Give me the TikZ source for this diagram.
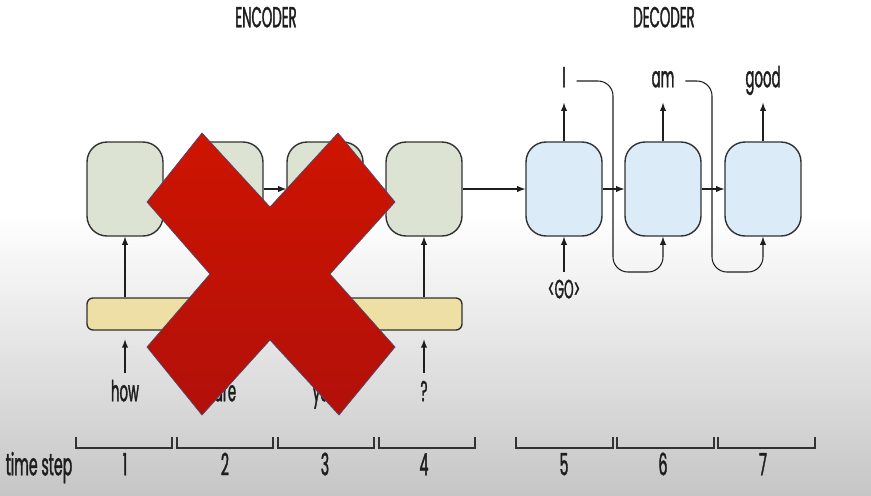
\documentclass[tikz,border=0pt]{standalone}
\usepackage{fontspec}
\setmainfont[FakeStretch=0.46, FakeBold=1.2]{Poppins}
\usetikzlibrary{arrows,positioning}

\definecolor{encfill}{RGB}{221,227,211}
\definecolor{decfill}{RGB}{219,235,247}
\definecolor{barfill}{RGB}{238,224,165}
\definecolor{edge}{RGB}{50,50,50}
\definecolor{ink}{RGB}{30,30,30}
\definecolor{crossred}{RGB}{206,20,0}
\definecolor{crossdark}{RGB}{178,16,10}
\definecolor{crossedge}{RGB}{80,70,110}

\tikzset{
  cell/.style={rectangle, rounded corners=0.4cm, draw=edge, line width=0.8pt,
    minimum width=1.52cm, minimum height=1.88cm},
  enccell/.style={cell, fill=encfill},
  deccell/.style={cell, fill=decfill},
  word/.style={text=ink, font=\fontsize{16.5}{18}\selectfont, inner sep=1pt,
    text height=1.6ex, text depth=0.3ex},
  big/.style={word, font=\fontsize{17.5}{20}\selectfont},
  link/.style={->, >=latex, line width=0.6pt, draw=ink},
  bracket/.style={line width=0.9pt, draw=edge},
}

\begin{document}
\begin{tikzpicture}[x=0.02cm, y=-0.02cm]
% background
\fill[white] (0,0) rectangle (871,495);
\shade[top color=white, bottom color={rgb,255:red,198;green,198;blue,198}] (0,215) rectangle (871,495);

% titles
\node[word] (enctitle) at (266,21) {ENCODER};
\node[word] (dectitle) at (664,21) {DECODER};

% encoder
\node[enccell] (e1) at (125,189) {};
\node[enccell] (e2) at (225,189) {};
\node[enccell] (e3) at (325,189) {};
\node[enccell] (e4) at (424,189) {};
\node[rectangle, rounded corners=0.12cm, draw=edge, line width=0.8pt, fill=barfill,
  minimum width=7.5cm, minimum height=0.64cm] (embed) at (274.5,314) {};

\node[word] (w1) at (125,395) {how};
\node[word] (w2) at (225,395) {are};
\node[word] (w3) at (325,395) {you};
\node[word] (w4) at (424,395) {?};

\draw[link] (e1) -- (e2);
\draw[link] (e2) -- (e3);
\draw[link] (e3) -- (e4);
\foreach \i in {1,...,4} {
  \draw[link] (embed.north -| e\i) -- (e\i.south);
  \draw[link, shorten <=6pt, shorten >=5pt] (w\i.north) -- (embed.south -| w\i);
}

% decoder
\node[deccell] (d5) at (564,189) {};
\node[deccell] (d6) at (663,189) {};
\node[deccell] (d7) at (763,189) {};
\draw[link] (e4) -- (d5);
\draw[link] (d5) -- (d6);
\draw[link] (d6) -- (d7);

\node[word] (o5) at (564,81) {I};
\node[word] (o6) at (663,81) {am};
\node[word] (o7) at (763,81) {good};
\node[word, font=\fontsize{15}{17}\selectfont] (go) at (564,292) {<GO>};

\foreach \i in {5,6,7}
  \draw[link, shorten >=6pt] (d\i.north) -- (o\i.south);
\draw[link, shorten <=5pt] (go.north) -- (d5.south);

% previous output fed back in
\draw[link, rounded corners=0.3cm] ([xshift=5pt]o5.east) -- (613,81) -- (613,272) -- (663,272) -- (d6.south);
\draw[link, rounded corners=0.3cm] ([xshift=5pt]o6.east) -- (712,81) -- (712,272) -- (763,272) -- (d7.south);

% time steps
\foreach \a/\b in {76/172, 177/273, 278/374, 379/475, 516/613, 617/714, 718/815}
  \draw[bracket] (\a,437) -- (\a,448) -- (\b,448) -- (\b,437);
\node[big] (tlabel) at (39,469) {time step};
\foreach \n/\x in {1/125, 2/225, 3/325, 4/424, 5/564, 6/663, 7/763}
  \node[big] (t\n) at (\x,469) {\n};

% cross over the encoder
\shade[top color=crossred, bottom color=crossdark, draw=crossedge, line width=0.4pt]
  (202,133) -- (270,207) -- (338,133) -- (395,202) -- (330,274) -- (395,347)
  -- (339,415) -- (270,340) -- (202,415) -- (147,347) -- (210,274) -- (147,202) -- cycle;
\end{tikzpicture}
\end{document}
